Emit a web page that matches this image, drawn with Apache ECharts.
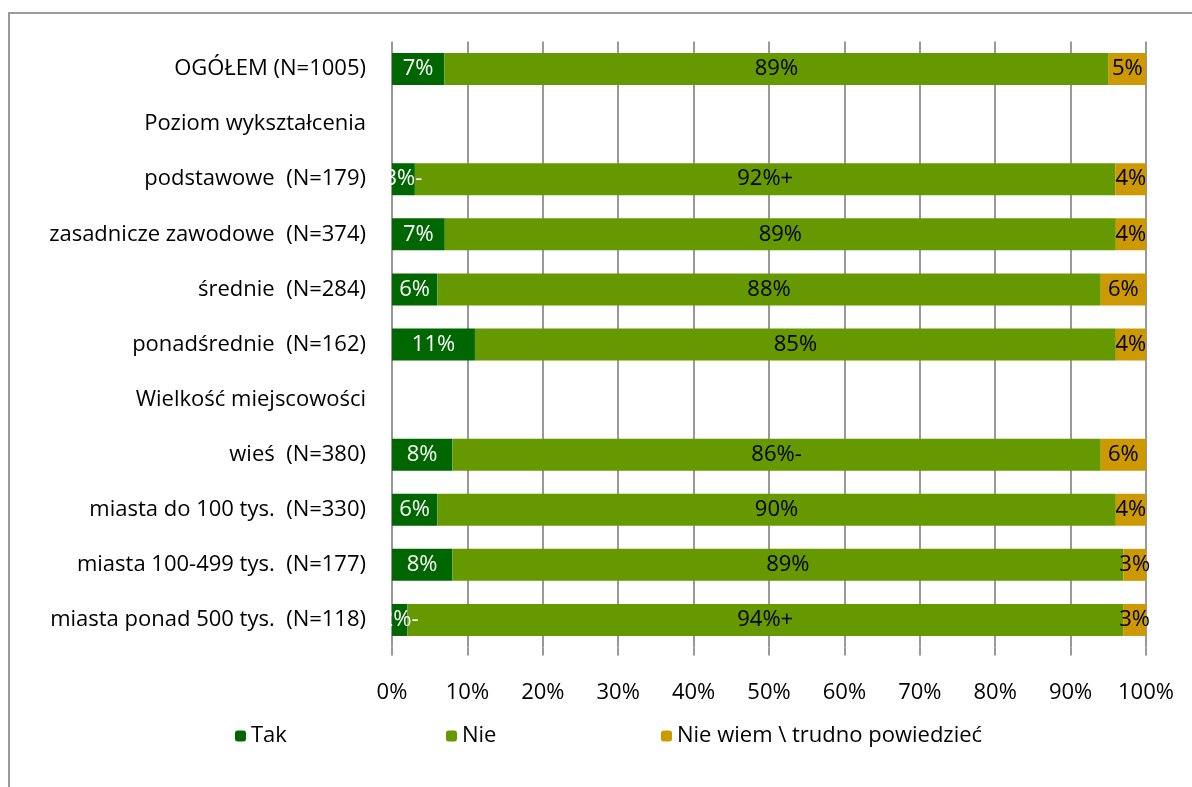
<!DOCTYPE html>
<html>
<head>
<meta charset="utf-8">
<script src="https://cdn.jsdelivr.net/npm/echarts@6/dist/echarts.min.js"></script>
<style>
html, body { margin: 0; padding: 0; background: #fff; }
#chart { width: 1192px; height: 787px; }
</style>
</head>
<body>
<div id="chart"></div>
<script>
// kategorie (wiersze nagłówkowe bez słupków)
var categories = ['OGÓŁEM (N=1005)', 'Poziom wykształcenia', 'podstawowe  (N=179)', 'zasadnicze zawodowe  (N=374)',
    'średnie  (N=284)', 'ponadśrednie  (N=162)', 'Wielkość miejscowości', 'wieś  (N=380)',
    'miasta do 100 tys.  (N=330)', 'miasta 100-499 tys.  (N=177)', 'miasta ponad 500 tys.  (N=118)'];
var seriesNames = ['Tak', 'Nie', 'Nie wiem \\ trudno powiedzieć'];
var tak = [7, null, 3, 7, 6, 11, null, 8, 6, 8, 2];
var nie = [89, null, 92, 89, 88, 85, null, 86, 90, 89, 94];
var nieWiem = [5, null, 4, 4, 6, 4, null, 6, 4, 3, 3];
// znaczniki istotności przy etykietach
var takMark = ['', '', '-', '', '', '', '', '', '', '', '-'];
var nieMark = ['', '', '+', '', '', '', '', '-', '', '', '+'];
var nieWiemMark = ['', '', '', '', '', '', '', '', '', '', ''];
var xTicks = [0, 10, 20, 30, 40, 50, 60, 70, 80, 90, 100];
var colors = ['#006600', '#669900', '#CC9900'];

var FONT = 'Open Sans';
var FS = 22;

// wykres 100% skumulowany - udział w sumie wiersza
function shares(arr) {
    return arr.map(function (v, i) {
        if (v == null) return null;
        var sum = tak[i] + nie[i] + nieWiem[i];
        return { value: v / sum * 100, raw: v };
    });
}

function makeSeries(idx, arr, marks, labelColor) {
    return {
        name: seriesNames[idx],
        type: 'bar',
        stack: 'all',
        barWidth: 32,
        data: shares(arr),
        itemStyle: { color: colors[idx] },
        label: {
            show: true,
            position: 'inside',
            color: labelColor,
            fontFamily: FONT,
            fontSize: FS,
            formatter: function (p) {
                if (!p.data) return '';
                return p.data.raw + '%' + marks[p.dataIndex];
            }
        },
        emphasis: { disabled: true }
    };
}

var myChart = echarts.init(document.getElementById('chart'));
var legendText = { fontSize: FS, color: '#000', fontFamily: FONT };
var option = {
    animation: false,
    textStyle: { fontFamily: FONT },
    graphic: [{
        type: 'rect',
        shape: { x: 9, y: 13, width: 1200, height: 800 },
        style: { fill: 'none', stroke: '#9a9a9a', lineWidth: 2 },
        silent: true
    }],
    legend: [
        { left: 230, top: 720, itemWidth: 11, itemHeight: 11, data: [seriesNames[0]], textStyle: legendText },
        { left: 441, top: 720, itemWidth: 11, itemHeight: 11, data: [seriesNames[1]], textStyle: legendText },
        { left: 656, top: 720, itemWidth: 11, itemHeight: 11, data: [seriesNames[2]], textStyle: legendText }
    ],
    grid: {
        left: 392,
        right: 46,
        top: 41.5,
        bottom: 139.5,
        containLabel: false
    },
    xAxis: {
        type: 'value',
        min: 0,
        max: 100,
        interval: 10,
        axisLine: { show: false },
        axisTick: { show: true, length: 8, lineStyle: { color: '#999', width: 2 } },
        splitLine: { show: true, lineStyle: { color: '#999', width: 2 } },
        axisLabel: {
            margin: 34,
            fontSize: FS,
            color: '#000',
            fontFamily: FONT,
            formatter: function (v) { return xTicks.indexOf(v) >= 0 ? v + '%' : ''; }
        }
    },
    yAxis: {
        type: 'category',
        inverse: true,
        data: categories,
        axisLine: { show: false },
        axisTick: { show: false },
        axisLabel: { margin: 26, fontSize: FS, color: '#000', fontFamily: FONT }
    },
    series: [
        makeSeries(0, tak, takMark, '#fff'),
        makeSeries(1, nie, nieMark, '#000'),
        makeSeries(2, nieWiem, nieWiemMark, '#000')
    ]
};
myChart.setOption(option);
window.addEventListener('resize', function () {
    myChart.resize();
});
</script>
</body>
</html>
